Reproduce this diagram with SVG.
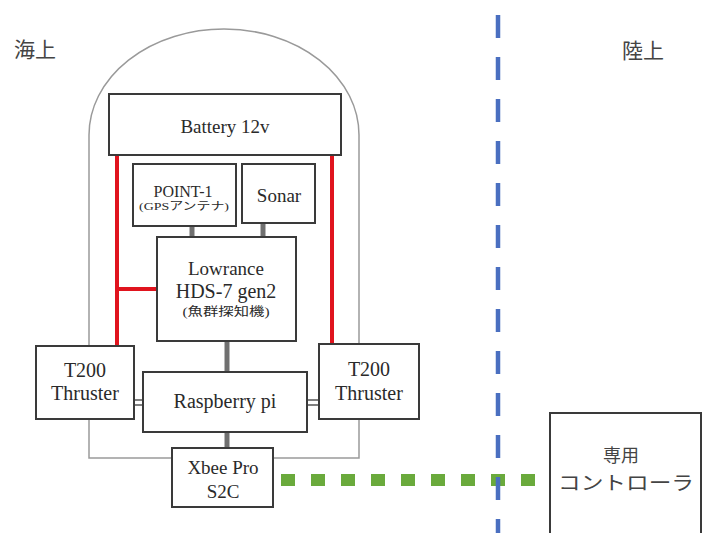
<svg xmlns="http://www.w3.org/2000/svg" width="704" height="533" viewBox="0 0 704 533">
<style>
.box{fill:#fff;stroke:#3a3a3a;stroke-width:2}
.t{font-family:'Liberation Serif','Times New Roman','DejaVu Serif','Noto Sans CJK JP',serif;fill:#2a2a2a;text-anchor:middle}
.j{font-family:'Noto Sans CJK JP',sans-serif;fill:#444;text-anchor:middle}
.gray{stroke:#707070;stroke-width:5;fill:none}
.red{stroke:#e0141e;stroke-width:4;fill:none}
.dbl{stroke:#555;stroke-width:1.5;fill:none}
</style>
<rect width="704" height="533" fill="#fff"/>
<g id="labels">
<text class="j" x="35" y="57" font-size="21">海上</text>
<text class="j" x="643" y="58" font-size="21">陸上</text>
</g>
<g id="hull">
<path d="M89,458 L89,135 A135,106 0 0 1 359,135 L359,458 Z" fill="none" stroke="#9a9a9a" stroke-width="1.5"/>
</g>
<g id="connectors">
<line class="red" x1="117" y1="155" x2="117" y2="346"/>
<line class="red" x1="117" y1="289" x2="157" y2="289"/>
<line class="red" x1="332" y1="155" x2="332" y2="345"/>
<line class="gray" x1="192" y1="226" x2="192" y2="237"/>
<line class="gray" x1="263" y1="223" x2="263" y2="237"/>
<line class="gray" x1="227" y1="341" x2="227" y2="372"/>
<line class="gray" x1="227" y1="432" x2="227" y2="448"/>
<line class="dbl" x1="134" y1="400" x2="143" y2="400"/>
<line class="dbl" x1="134" y1="405" x2="143" y2="405"/>
<line class="dbl" x1="307" y1="400" x2="319" y2="400"/>
<line class="dbl" x1="307" y1="405" x2="319" y2="405"/>
<line x1="281" y1="480" x2="540" y2="480" stroke="#6aaa3c" stroke-width="12" stroke-dasharray="14 16"/>
<line x1="498" y1="15" x2="498" y2="533" stroke="#4a6fc0" stroke-width="4.5" stroke-dasharray="23 19"/>
</g>
<g id="battery">
<rect class="box" x="109" y="94" width="232" height="61"/>
<text class="t" x="225" y="133" font-size="19">Battery 12v</text>
</g>
<g id="point1">
<rect class="box" x="133" y="164" width="103" height="62"/>
<text class="t" x="183" y="197" font-size="16">POINT-1</text>
<text class="t" x="184" y="210" font-size="11" textLength="90" lengthAdjust="spacingAndGlyphs">(GPSアンテナ)</text>
</g>
<g id="sonar">
<rect class="box" x="242" y="164" width="73" height="59"/>
<text class="t" x="279" y="202" font-size="19">Sonar</text>
</g>
<g id="lowrance">
<rect class="box" x="157" y="237" width="139" height="104"/>
<text class="t" x="226" y="275" font-size="19">Lowrance</text>
<text class="t" x="226" y="298" font-size="20">HDS-7 gen2</text>
<text class="t" x="226" y="316" font-size="12" textLength="87" lengthAdjust="spacingAndGlyphs">(魚群探知機)</text>
</g>
<g id="raspberry">
<rect class="box" x="143" y="372" width="164" height="60"/>
<text class="t" x="225" y="408" font-size="20">Raspberry pi</text>
</g>
<g id="thruster-left">
<rect class="box" x="36" y="346" width="98" height="73"/>
<text class="t" x="85" y="377" font-size="20">T200</text>
<text class="t" x="85" y="400" font-size="20">Thruster</text>
</g>
<g id="thruster-right">
<rect class="box" x="319" y="344" width="100" height="75"/>
<text class="t" x="369" y="376" font-size="20">T200</text>
<text class="t" x="369" y="400" font-size="20">Thruster</text>
</g>
<g id="xbee">
<rect class="box" x="172" y="448" width="101" height="59"/>
<text class="t" x="223" y="474" font-size="19">Xbee Pro</text>
<text class="t" x="223" y="498" font-size="19">S2C</text>
</g>
<g id="controller">
<rect class="box" x="550" y="413" width="151" height="130"/>
<text class="j" x="621" y="462" font-size="18">専用</text>
<text class="j" x="626" y="490" font-size="19" textLength="136" lengthAdjust="spacingAndGlyphs">コントローラ</text>
</g>
</svg>
